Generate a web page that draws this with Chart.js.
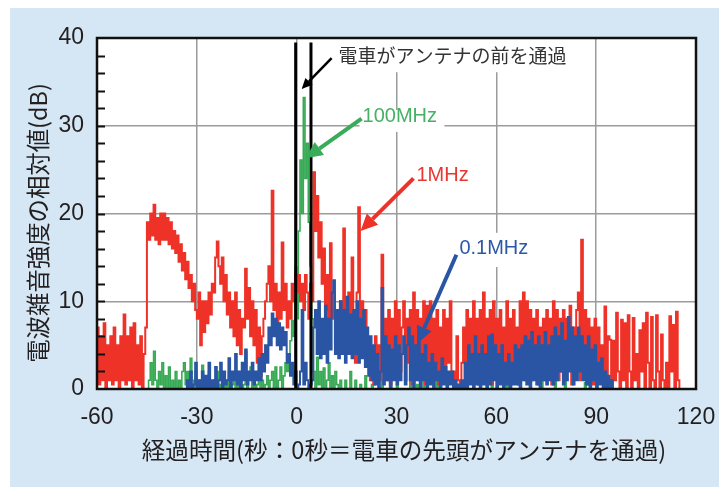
<!DOCTYPE html>
<html>
<head>
<meta charset="utf-8">
<script src="https://cdn.jsdelivr.net/npm/chart.js@4.4.0/dist/chart.umd.min.js"></script>
<style>
  html, body { margin: 0; padding: 0; background: #fff; }
  canvas { display: block; }
</style>
</head>
<body>
<canvas id="noiseChart" width="719" height="487"></canvas>
<script>
// ── DATA (relative noise level in dB, one sample every 0.5 s) ──────────────
const sampleStep = 0.5;
const redStart = -60, blueStart = -34, greenStart = -46;

// 1MHz
const red1MHz = [
  7,0.5,6,1,7.5,0,5,1,6,0.5,7,1,5,0,6,1,8.5,0.5,6,1,
  7,0,7.5,1,5,0.5,6,0,4,7,19,17,20,17.5,21,17,19.5,16.5,20,17,
  20,17,19.5,16.5,19,16,18,15.5,17.5,14.5,16.5,13.5,15.5,12.5,14.5,11.5,13,10,12,9,
  8,11,5,10,6.5,10,7.5,11,8.5,12,11,15,16.8,14,12,15,10,13,8.5,11,
  7,10,6,11,5,9,4,8,7,13.7,8,11.5,6,10,5,9,3,7,1.5,6,
  8,10,12,14,10,22.6,9,12,7,11,8,16.7,9,12,7,10,8,12,10,13,
  11,13,10,12,9,13,11,8,12,10,24.7,18,22,15,19,12,16,9,13,6,
  16.6,8,11,5,9,4,10,7,18.3,9,6,11,4,15,8,3,11,20.7,7,10,
  6,9,3,5,1,4,0.5,6,2,5,1,15.3,2,8,1,9,0.5,8,2,10,
  1,9,2,7,10,1,8,3,9,0.5,11,2,9,1,8,3,10,0.5,9.5,2,
  10,1,8,3,9,0.5,7,2,9,1,8,3,10,1,2,0,6,1,0,3,
  7,0.5,9,2,8,1,10,3,8,0.5,9,2,11,1,8,3,9,0.5,10,2,
  8,1,9,3,7,0.5,10,2,8,1,9,3,7,0.5,10,2,11,1,10,2,
  9,1,8,3,9,0.5,7,2,8,1,9,3,8,0.5,10,2,9,1,8,2,
  9,1,8,3,9.5,0.5,7,2,9,11,1,17,2,9,0.5,8,2,7,0.5,8,
  3,7,1,5,0,9.4,1,6,5.6,0,5.5,1,8.7,2,0,7.9,1,7.5,0,8.4,
  2,0,8.1,1,4,0,6.7,2,7.5,0,8.7,3,0,8.2,1,0,8.4,2,0,6.2,
  1,0,3,0,8.3,2,7.3,0,8.8,1,0
];

// 0.1MHz
const blue01MHz = [
  0,0,1,0,2,0,0.5,3,0,1,0,2,0,1.5,0,3,0,1,0,2.5,
  0,1,3,0,2,0.5,1,3.5,0,2,1,4,0.5,2,0,3,1,4.5,0.5,2,
  1,3,0.5,2,1,3.5,1,4,2,5,3,7,5,8.6,6,8,5,7.5,4.5,7,
  5,6.5,3,4,1.5,3,0.5,2,0,0.5,2,9,0.5,3,1,0,0.5,1,7,9,
  4,10,3.5,8,4,9.5,3,8,4.5,11,12.4,4,9,3.5,10,4,9,3,10.5,4,
  8.5,3.5,9,4,10,3,8,3.5,9,2.5,7,1.5,6,1,5,0.5,4,0,2,11.5,
  0.5,6,1,5,0,4.5,1,6,0.5,5,1,4,6,0.5,5,7,1,6,0,5,
  1,6,0,4,1,5,0,3,0.5,4,0,3,1,2,0,3.5,0.5,2.5,0,2,
  0.5,2,0,1,0,0.5,0,1,0,3,0,5,0.5,4,0,6,0.5,4,0,5,
  0.5,4,0,6,0.5,6.2,1,5,0,4,0.5,5,0,3,0.5,4,0,3,0.5,5,
  0.5,4.5,0,5,1,6,0.5,5.5,0,6.5,1,5,0.5,6,0,5,1,6.5,0.5,5,
  1,6,0.5,7,1,6,2,7.5,0.5,5.5,1,8.2,2,7,0.5,6,1,7,2,6,
  1,5,0.5,6,0,4.5,1,5,0,3,0.5,3.5,0,2,0,1.5,0,1,0
];

// 100MHz
const green100MHz = [
  0,0,0,1,3,0.5,4.3,1,0,2,0.5,3,0,1.5,0,2.5,0,1,0,2,
  0,1,0,2,3,0.5,2,0,3.5,1,0,2,0.5,1,0,2.7,0,1,0,2,
  0,0.5,1,0,2,0,0.5,1.5,0,1,0,2,0,0.5,1,0,2,0,1,0,
  0.5,4.2,0,1,2.5,0,1,0,0.5,2,0,1,0,0.5,1.5,0,1,2,0,2.5,
  0,1,2.5,0,1.5,3,2,4,5.5,7.8,6,13.9,8,18,26.1,20,33.2,24,28,19,
  14,8,2,0,3.6,0.5,2,0,2.4,0,1,3,0,1.5,0,2,0.5,0,1,0,
  0,1,0,0,2,0,0,1,0,0,0.5,0,0,1.5,0,0,0,0.5,0,0,
  0,0,0,1,0,0,0,0,2.5,0,0,0,0.5,0,0,0,0,0,0,0,
  1.4,0,0,0,0.5,0,0,0,3.9,0,0,0,0,0,0,0,2.9,0,0,0,
  0,0,0,0,0,0,0.5,0,0,0,0,0,0,0,1,0,0,0,0,0,
  0,0,0,0,0,0,0,0,0,2.2,0,0,0,0,0,0,0,0,4.6,0,
  0.5,0,0,0,0,0,0,0,0,0,0,0,0,0,0,0,0,0,0,2.2,
  0,0,0,0,0,0,0,1.4,0,0,0,0,0,1,0,0,0,0,0,0,
  0,0,0,0,0,0.7,0,0,0,0,0,0,0
];

// train passing in front of the antenna (seconds)
const trainLines = [-0.3, 4.3];
const trainLineTop = 39.5;

const xTicks = [-60, -30, 0, 30, 60, 90, 120];
const yTicks = [0, 10, 20, 30, 40];
const xTitle = "経過時間(秒：0秒＝電車の先頭がアンテナを通過)";
const yTitle = "電波雑音強度の相対値(dB)";

// annotations: text position / arrow start,end / white box (data units)
const notes = [
  { text: "電車がアンテナの前を通過", color: "#333333", arrowColor: "#000", font: "19px 'Noto Sans CJK JP'",
    at: [12.6, 37.95], arrow: [10.5, 37.7, 1.5, 34.2], lw: 2.5, box: [11.4, 40, 80, 36.1] },
  { text: "100MHz", color: "#46b065", arrowColor: "#3aab58", font: "20px 'Liberation Sans'",
    at: [19.8, 31.1], arrow: [19.5, 30.8, 2.7, 26.3], lw: 4, box: [18.9, 31.8, 44.4, 29.3] },
  { text: "1MHz", color: "#e8372f", arrowColor: "#ee3228", font: "20px 'Liberation Sans'",
    at: [36, 24.3], arrow: [35.1, 24.0, 19.2, 18.0], lw: 4, box: null },
  { text: "0.1MHz", color: "#2c58a6", arrowColor: "#2a55a4", font: "20px 'Liberation Sans'",
    at: [48.9, 16.0], arrow: [48, 15.3, 36.3, 5.2], lw: 4, box: [47.4, 17.8, 71.4, 13.9] },
];

const toPoints = (arr, start) => arr.map((v, i) => ({ x: start + i * sampleStep, y: v }));

function drawArrow(ctx, x1, y1, x2, y2, color, lw) {
  const ang = Math.atan2(y2 - y1, x2 - x1);
  const headLen = lw * 4.2, headW = lw * 2;
  const bx = x2 - headLen * Math.cos(ang), by = y2 - headLen * Math.sin(ang);
  ctx.save();
  ctx.strokeStyle = color; ctx.fillStyle = color; ctx.lineWidth = lw;
  ctx.beginPath(); ctx.moveTo(x1, y1); ctx.lineTo(bx, by); ctx.stroke();
  ctx.beginPath();
  ctx.moveTo(x2, y2);
  ctx.lineTo(bx + headW * Math.sin(ang), by - headW * Math.cos(ang));
  ctx.lineTo(bx - headW * Math.sin(ang), by + headW * Math.cos(ang));
  ctx.closePath(); ctx.fill();
  ctx.restore();
}

// ── PAGE FRAME / TITLES / ANNOTATIONS ──────────────────────────────────────
const framePlugin = {
  id: "frame",
  beforeDraw(chart) {
    const { ctx, chartArea: a } = chart;
    ctx.save();
    ctx.fillStyle = "#ffffff";
    ctx.fillRect(0, 0, chart.width, chart.height);
    ctx.fillStyle = "#d5e7f4";
    ctx.fillRect(10, 8, chart.width - 10, chart.height - 8);
    ctx.fillStyle = "#ffffff";
    ctx.fillRect(a.left, a.top, a.right - a.left, a.bottom - a.top);
    ctx.restore();
  },
  beforeDatasetsDraw(chart) {
    const { ctx, scales: { x, y } } = chart;
    ctx.save();
    ctx.fillStyle = "#ffffff";
    notes.forEach(n => {
      if (!n.box) return;
      const [x1, y1, x2, y2] = n.box;
      const px1 = x.getPixelForValue(x1), py1 = y.getPixelForValue(y1);
      ctx.fillRect(px1, py1, x.getPixelForValue(x2) - px1, y.getPixelForValue(y2) - py1);
    });
    ctx.restore();
  },
  afterDatasetsDraw(chart) {
    const { ctx, chartArea: a, scales: { x, y } } = chart;
    ctx.save();
    // minor ticks on the left axis
    ctx.strokeStyle = "#111"; ctx.lineWidth = 2;
    for (let v = 2; v < 40; v += 2) {
      const py = Math.round(y.getPixelForValue(v)) + 0.5;
      ctx.beginPath(); ctx.moveTo(a.left, py); ctx.lineTo(a.left + 8, py); ctx.stroke();
    }
    // plot frame
    ctx.lineWidth = 2.5;
    ctx.strokeRect(a.left, a.top, a.right - a.left, a.bottom - a.top);
    // labels + arrows
    notes.forEach(n => {
      const [sx, sy, ex, ey] = n.arrow;
      drawArrow(ctx, x.getPixelForValue(sx), y.getPixelForValue(sy),
        x.getPixelForValue(ex), y.getPixelForValue(ey), n.arrowColor, n.lw);
      ctx.font = n.font;
      ctx.fillStyle = n.color;
      ctx.textAlign = "left"; ctx.textBaseline = "middle";
      ctx.fillText(n.text, x.getPixelForValue(n.at[0]), y.getPixelForValue(n.at[1]));
    });
    // axis titles
    ctx.fillStyle = "#231f20";
    ctx.font = "23.6px 'Noto Sans CJK JP'";
    ctx.textAlign = "center"; ctx.textBaseline = "middle";
    ctx.fillText(xTitle, 404, 450);
    ctx.translate(38, 223);
    ctx.rotate(-Math.PI / 2);
    ctx.font = "23.4px 'Noto Sans CJK JP'";
    ctx.fillText(yTitle, 0, 0);
    ctx.restore();
  },
};

// ── CHART ──────────────────────────────────────────────────────────────────
const lineStyle = { borderWidth: 2, pointRadius: 0, stepped: true, fill: false, tension: 0 };

new Chart(document.getElementById("noiseChart").getContext("2d"), {
  type: "line",
  data: {
    datasets: [
      ...trainLines.map(t => ({
        data: [{ x: t, y: 0 }, { x: t, y: trainLineTop }],
        borderColor: "#000", borderWidth: 3, pointRadius: 0,
      })),
      { label: "0.1MHz", data: toPoints(blue01MHz, blueStart), borderColor: "#2a55a4", ...lineStyle },
      { label: "1MHz", data: toPoints(red1MHz, redStart), borderColor: "#ee3228", ...lineStyle },
      { label: "100MHz", data: toPoints(green100MHz, greenStart), borderColor: "#38aa55", ...lineStyle, borderWidth: 1.6 },
    ],
  },
  options: {
    responsive: false, animation: false, devicePixelRatio: 1,
    layout: { padding: { top: 38, right: 23, left: 0, bottom: 0 } },
    plugins: { legend: { display: false }, tooltip: { enabled: false } },
    scales: {
      x: {
        type: "linear", min: -60, max: 120,
        afterBuildTicks: s => { s.ticks = xTicks.map(v => ({ value: v })); },
        afterFit: s => { s.height = 98; s.paddingLeft = 0; s.paddingRight = 0; },
        grid: { color: "#9b9b9b", lineWidth: 1.5, drawTicks: false },
        border: { display: false },
        ticks: { color: "#231f20", padding: 15, font: { family: "'Liberation Sans', Arial", size: 23 } },
        title: { display: false },
      },
      y: {
        type: "linear", min: 0, max: 40,
        afterBuildTicks: s => { s.ticks = yTicks.map(v => ({ value: v })); },
        afterFit: s => { s.width = 97; s.paddingTop = 0; s.paddingBottom = 0; },
        grid: { color: "#9b9b9b", lineWidth: 1.5, drawTicks: false },
        border: { display: false },
        ticks: { color: "#231f20", padding: 13, font: { family: "'Liberation Sans', Arial", size: 23 } },
        title: { display: false },
      },
    },
  },
  plugins: [framePlugin],
});
</script>
</body>
</html>
